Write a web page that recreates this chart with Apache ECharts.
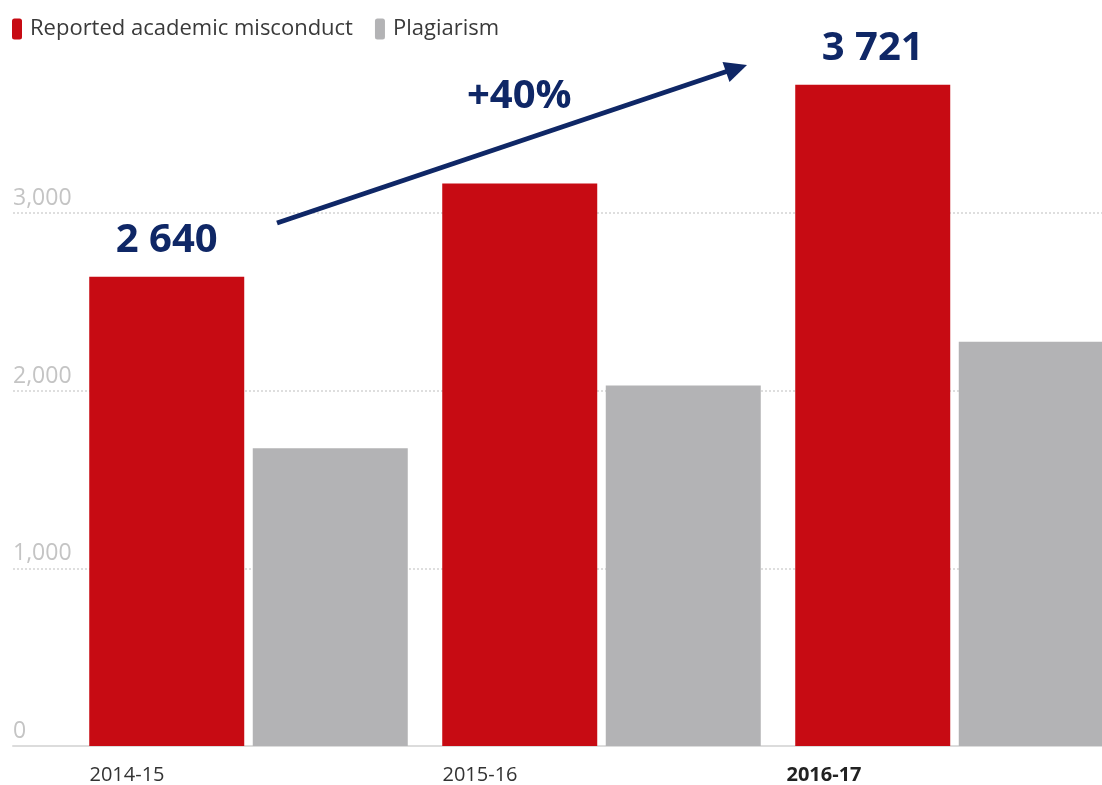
<!DOCTYPE html>
<html>
<head>
<meta charset="utf-8">
<script src="https://cdn.jsdelivr.net/npm/echarts@6/dist/echarts.min.js"></script>
<style>
html,body{margin:0;padding:0;background:#fff;}
#chart{width:1102px;height:785px;}
</style>
</head>
<body>
<div id="chart"></div>
<script>
const categories = ['2014-15', '2015-16', '2016-17'];
const misconduct = [2640, 3166, 3721];
const plagiarism = [1675, 2028, 2275];
const yTicks = [0, 1000, 2000, 3000, 4000];
const seriesNames = ['Reported academic misconduct', 'Plagiarism'];
const topLabels = ['2 640', '', '3 721'];
const growthLabel = '+40%';

const FONT = '"Open Sans", "Noto Sans", sans-serif';
const NAVY = '#0f2766';
const RED = '#c70b13';
const GRAY = '#b3b3b5';

const chart = echarts.init(document.getElementById('chart'), null, {renderer: 'canvas'});

const option = {
  backgroundColor: '#ffffff',
  animation: false,
  legend: {
    left: 7, top: 13,
    itemWidth: 10, itemHeight: 21,
    itemGap: 22,
    icon: 'roundRect',
    itemStyle: {borderRadius: 3},
    textStyle: {fontFamily: FONT, fontSize: 22, color: '#3a3a3a', padding: [0, 0, 0, 3]},
    data: seriesNames
  },
  grid: [
    {left: 13, right: 0, top: 746 - 4 * 177.7, bottom: 39, containLabel: false, outerBoundsMode: 'none'},
    {left: 72, width: 1059, top: 746 - 4 * 177.7, bottom: 39, containLabel: false, outerBoundsMode: 'none'}
  ],
  xAxis: [
    {
      gridIndex: 0, type: 'category', data: categories,
      axisLine: {show: true, lineStyle: {color: '#dcdcdc', width: 2}},
      axisTick: {show: false}, axisLabel: {show: false}, splitLine: {show: false}
    },
    {
      gridIndex: 1, type: 'category', data: categories,
      axisLine: {show: false}, axisTick: {show: false},
      axisLabel: {
        fontFamily: FONT, fontSize: 20, color: '#333',
        align: 'right', padding: [0, 84, 0, 0], margin: 19,
        formatter: function (v, i) { return i === 2 ? '{b|' + v + '}' : v; },
        rich: {b: {fontFamily: FONT, fontSize: 20, fontWeight: 'bold', color: '#222', padding: [0, 9, 0, 0]}}
      }
    }
  ],
  yAxis: [
    {
      gridIndex: 0, type: 'value', min: yTicks[0], max: yTicks[yTicks.length - 1], interval: 1000,
      axisLine: {show: false}, axisTick: {show: false},
      axisLabel: {
        inside: true, margin: 0, verticalAlign: 'bottom', padding: [0, 0, 3, 0],
        fontFamily: FONT, fontSize: 23, color: '#c4c4c4',
        formatter: function (v) { return v === yTicks[yTicks.length - 1] ? '' : (v === 0 ? '0' : v.toLocaleString('en-US')); }
      },
      splitLine: {show: true, lineStyle: {type: [2, 2], width: 1.5, color: ['transparent', '#d4d4d4', '#d4d4d4', '#d4d4d4', 'transparent']}}
    },
    {
      gridIndex: 1, type: 'value', min: yTicks[0], max: yTicks[yTicks.length - 1], interval: 1000,
      show: false, splitLine: {show: false}
    }
  ],
  series: [
    {
      name: seriesNames[0], type: 'bar', xAxisIndex: 1, yAxisIndex: 1,
      data: misconduct, barWidth: 155, barGap: '5.5%',
      itemStyle: {color: RED},
      label: {
        show: true, position: 'top', distance: 16,
        fontFamily: FONT, fontSize: 40, fontWeight: 'bold', color: NAVY,
        formatter: function (p) { return topLabels[p.dataIndex]; }
      }
    },
    {
      name: seriesNames[1], type: 'bar', xAxisIndex: 1, yAxisIndex: 1,
      data: plagiarism, barWidth: 155,
      itemStyle: {color: GRAY}
    }
  ],
  graphic: [
    {
      type: 'line', z: 100,
      shape: {x1: 277, y1: 223, x2: 728, y2: 71},
      style: {stroke: NAVY, lineWidth: 5}
    },
    {
      type: 'polygon', z: 100,
      shape: {points: [[747, 65], [729.5, 82], [722.5, 62]]},
      style: {fill: NAVY}
    },
    {
      type: 'text', z: 100, x: 467, y: 97,
      style: {text: growthLabel, fontFamily: FONT, fontSize: 40, fontWeight: 'bold', fill: NAVY, verticalAlign: 'middle', align: 'left'}
    }
  ]
};
chart.setOption(option);
</script>
</body>
</html>
